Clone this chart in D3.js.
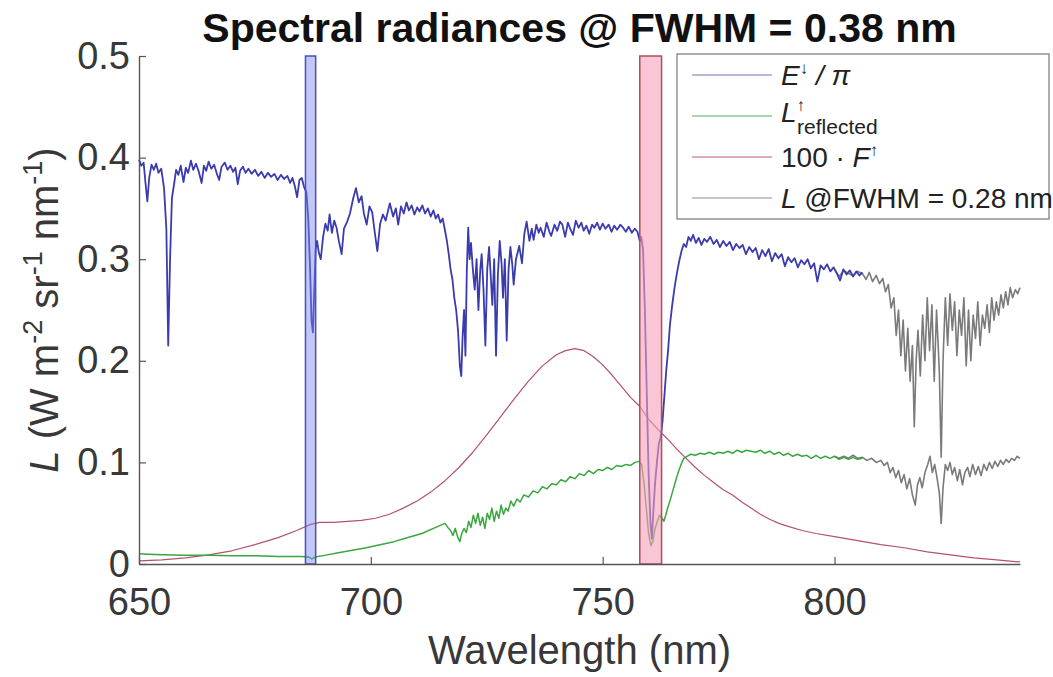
<!DOCTYPE html>
<html>
<head>
<meta charset="utf-8">
<script src="https://cdn.jsdelivr.net/npm/d3@7"></script>
<style>
  body { margin: 0; background: #fff; }
  text { font-family: "Liberation Sans", Arial, sans-serif; }
</style>
</head>
<body>
<div id="chart"></div>
<script>
// E_down / pi (blue)
const eDownNm = [650.0,650.5,651.0,651.4,651.8,652.2,652.7,653.2,653.7,654.2,654.8,655.4,655.9,656.3,656.7,657.1,657.6,658.0,658.5,659.0,659.6,660.1,660.6,661.2,661.7,662.3,662.9,663.5,664.0,664.5,665.0,665.6,666.2,666.8,667.3,667.8,668.5,669.1,669.7,670.3,670.8,671.3,671.8,672.4,673.0,673.6,674.3,675.0,675.7,676.4,677.1,677.8,678.5,679.2,679.9,680.6,681.3,682.0,682.6,683.1,683.6,684.1,684.6,685.1,685.6,686.1,686.5,686.9,687.2,687.5,687.8,688.1,688.4,688.8,689.2,689.7,690.2,690.7,691.1,691.6,692.1,692.6,693.1,693.7,694.2,694.9,695.5,696.2,696.8,697.4,698.0,698.5,699.1,699.7,700.3,700.8,701.4,702.0,702.6,703.2,704.1,704.8,705.4,705.9,706.5,707.1,707.7,708.2,708.8,709.4,710.0,710.5,711.1,711.7,712.3,712.9,713.5,714.0,714.5,715.0,715.5,716.0,716.4,716.8,717.2,717.6,718.0,718.4,718.8,719.2,719.5,719.8,720.1,720.4,720.7,721.0,721.3,721.6,722.0,722.4,722.8,723.2,723.6,723.9,724.3,724.7,725.1,725.5,725.9,726.2,726.6,727.0,727.4,727.8,728.2,728.5,728.9,729.3,729.7,730.1,730.5,730.8,731.3,732.0,732.6,733.1,733.6,734.2,734.7,735.1,735.7,736.2,736.6,737.3,737.9,738.5,738.9,739.6,740.2,740.8,741.3,741.9,742.5,743.0,743.6,744.2,744.8,745.4,745.9,746.5,747.1,747.7,748.2,748.8,749.4,750.0,750.6,751.3,751.9,752.5,753.1,753.8,754.4,755.0,755.6,756.3,756.9,757.5,758.0,758.3,758.7,759.1,759.5,759.9,760.3,760.6,760.9,761.3,761.7,762.1,762.5,762.9,763.3,763.7,764.1,764.5,765.0,765.5,766.0,766.5,767.0,767.5,768.0,768.5,769.0,769.5,770.1,770.7,771.3,771.9,772.5,773.2,773.9,774.6,775.3,776.0,776.7,777.4,778.1,778.8,779.5,780.2,780.9,781.6,782.3,783.0,783.7,784.4,785.1,785.8,786.5,787.2,787.9,788.6,789.3,790.0,790.7,791.4,792.1,792.8,793.5,794.2,794.9,795.6,796.3,797.0,797.7,798.4,799.1,799.8,800.5,801.2,801.9,802.6,803.3,804.0,804.7,805.4,806.0];
const eDownVal = [0.398,0.392,0.395,0.375,0.357,0.380,0.393,0.388,0.394,0.385,0.389,0.370,0.330,0.215,0.300,0.360,0.375,0.388,0.383,0.392,0.376,0.390,0.385,0.397,0.388,0.394,0.386,0.375,0.392,0.387,0.396,0.389,0.393,0.384,0.378,0.391,0.395,0.388,0.392,0.386,0.390,0.374,0.387,0.391,0.385,0.389,0.384,0.388,0.382,0.386,0.380,0.385,0.381,0.384,0.378,0.383,0.379,0.382,0.375,0.380,0.372,0.361,0.378,0.380,0.371,0.366,0.340,0.290,0.240,0.228,0.270,0.310,0.318,0.306,0.300,0.322,0.335,0.328,0.344,0.326,0.338,0.331,0.318,0.305,0.330,0.337,0.345,0.360,0.370,0.356,0.362,0.345,0.334,0.352,0.346,0.328,0.308,0.335,0.344,0.338,0.355,0.342,0.350,0.334,0.352,0.345,0.356,0.348,0.353,0.344,0.351,0.347,0.353,0.345,0.350,0.342,0.348,0.340,0.344,0.336,0.340,0.328,0.318,0.305,0.290,0.280,0.262,0.250,0.230,0.195,0.185,0.225,0.250,0.205,0.290,0.331,0.300,0.316,0.290,0.270,0.300,0.250,0.290,0.305,0.270,0.215,0.290,0.312,0.280,0.255,0.300,0.205,0.285,0.318,0.295,0.262,0.300,0.220,0.290,0.312,0.295,0.275,0.300,0.313,0.296,0.325,0.337,0.318,0.330,0.319,0.334,0.326,0.331,0.322,0.336,0.327,0.323,0.334,0.328,0.337,0.334,0.322,0.336,0.330,0.324,0.338,0.331,0.336,0.328,0.333,0.325,0.334,0.331,0.336,0.329,0.335,0.330,0.334,0.327,0.333,0.329,0.334,0.331,0.327,0.332,0.326,0.330,0.327,0.318,0.322,0.310,0.250,0.170,0.090,0.040,0.025,0.050,0.080,0.100,0.118,0.125,0.140,0.165,0.190,0.210,0.235,0.255,0.272,0.286,0.298,0.308,0.315,0.312,0.322,0.318,0.324,0.316,0.321,0.314,0.320,0.317,0.322,0.315,0.319,0.312,0.318,0.313,0.317,0.309,0.315,0.311,0.314,0.305,0.312,0.307,0.311,0.300,0.309,0.303,0.310,0.298,0.306,0.301,0.305,0.293,0.302,0.297,0.301,0.292,0.299,0.295,0.300,0.291,0.296,0.278,0.294,0.290,0.295,0.288,0.292,0.286,0.279,0.290,0.285,0.289,0.283,0.288,0.284,0.287];

// L_up reflected (green)
const lReflNm = [650,652,655,660,665,670,675,680,685,686.5,687.3,688.0,690,693,696,699,702,705,708,711,714,716,716.6,717.2,717.7,718.2,718.7,719.2,719.6,720.1,720.6,721.1,721.6,722.1,722.6,723.1,723.6,724.1,724.6,725.1,725.6,726.1,726.6,727.1,727.6,728.1,728.6,729.1,729.6,730.2,730.8,731.5,732.2,733,734,735,736,737,738,739,740,741,742,743,744,745,746,747,748,749,750,751,752,753,754,755,756,757,757.8,758.4,758.9,759.4,759.9,760.4,760.8,761.3,761.8,762.3,762.8,763.2,763.6,764.0,764.5,765.0,765.5,766.0,766.5,767.0,767.5,768.2,769,770,771,772,773,774,775,776,777,778,779,780,781,782,783,784,785,786,787,788,789,790,791,792,793,794,795,796,797,798,799,800,801,802,803,804,805,806];
const lReflVal = [0.010,0.0095,0.009,0.0085,0.0085,0.008,0.008,0.0075,0.0075,0.007,0.005,0.0068,0.0085,0.011,0.0135,0.016,0.019,0.022,0.026,0.030,0.036,0.040,0.036,0.033,0.028,0.035,0.027,0.022,0.030,0.035,0.031,0.042,0.036,0.048,0.040,0.050,0.038,0.046,0.035,0.050,0.044,0.055,0.042,0.052,0.045,0.058,0.049,0.055,0.052,0.062,0.057,0.064,0.061,0.068,0.066,0.072,0.070,0.076,0.074,0.079,0.078,0.083,0.081,0.086,0.084,0.089,0.087,0.092,0.089,0.093,0.092,0.095,0.093,0.097,0.096,0.098,0.097,0.100,0.101,0.098,0.080,0.055,0.030,0.018,0.022,0.035,0.042,0.048,0.045,0.042,0.048,0.055,0.062,0.070,0.078,0.086,0.093,0.099,0.104,0.106,0.108,0.107,0.109,0.108,0.110,0.108,0.110,0.109,0.111,0.109,0.112,0.110,0.112,0.111,0.110,0.112,0.109,0.111,0.108,0.110,0.107,0.109,0.106,0.108,0.106,0.107,0.104,0.107,0.104,0.106,0.104,0.106,0.103,0.105,0.103,0.105,0.103,0.104];

// 100 * F_up (red)
const fluorNm = [650,655,660,665,670,675,680,684,687,689,692,695,698,701,704,707,710,713,716,719,722,725,728,731,734,737,740,742,744,746,748,750,752,754,756,758,760,762,764,766,768,770,772,774,776,778,780,782,784,786,788,790,793,796,800,805,810,815,820,825,830,835,840];
const fluorVal = [0.003,0.004,0.006,0.009,0.013,0.019,0.026,0.033,0.039,0.041,0.041,0.042,0.043,0.045,0.049,0.055,0.062,0.071,0.082,0.095,0.110,0.127,0.145,0.163,0.180,0.195,0.206,0.210,0.212,0.210,0.204,0.196,0.186,0.175,0.164,0.155,0.142,0.132,0.123,0.113,0.104,0.095,0.087,0.080,0.073,0.068,0.061,0.055,0.049,0.044,0.040,0.037,0.033,0.030,0.027,0.023,0.019,0.016,0.012,0.009,0.006,0.004,0.002];

// L @ FWHM = 0.28 nm (grey), upper and lower traces
const greyUpNm = [800.0,801.0,802.0,803.0,804.0,805.0,806.0,806.8,807.5,808.2,809.0,809.7,810.4,811.0,811.6,812.2,812.8,813.3,813.8,814.3,814.8,815.3,815.8,816.3,816.8,817.2,817.6,818.0,818.5,819.0,819.5,820.0,820.5,821.0,821.5,822.0,822.6,823.0,823.4,823.9,824.4,824.9,825.4,825.9,826.4,826.9,827.4,827.9,828.4,828.9,829.4,829.9,830.4,830.9,831.4,831.9,832.4,832.9,833.4,833.9,834.4,834.9,835.4,835.9,836.4,836.9,837.4,837.9,838.4,839.0,839.5,840.0];
const greyUpVal = [0.290,0.283,0.289,0.286,0.284,0.288,0.286,0.280,0.287,0.278,0.284,0.276,0.281,0.268,0.275,0.252,0.262,0.225,0.250,0.205,0.240,0.190,0.232,0.180,0.215,0.135,0.200,0.230,0.185,0.245,0.200,0.262,0.210,0.255,0.180,0.250,0.190,0.105,0.200,0.262,0.215,0.266,0.230,0.258,0.205,0.250,0.225,0.262,0.195,0.250,0.200,0.245,0.222,0.258,0.215,0.245,0.232,0.255,0.228,0.262,0.240,0.258,0.245,0.265,0.252,0.268,0.255,0.272,0.262,0.270,0.266,0.272];
const greyLoNm = [800,801,802,803,804,805,806,807,808,809,810,810.7,811.4,812.0,812.6,813.2,813.8,814.4,815.0,815.6,816.2,816.8,817.4,817.9,818.4,818.9,819.5,820.1,820.6,821.1,821.6,822.1,822.6,823.0,823.4,823.9,824.4,824.9,825.4,825.9,826.5,827.0,827.6,828.1,828.7,829.2,829.8,830.4,831.0,831.6,832.2,832.8,833.4,834.0,834.6,835.2,835.8,836.4,837.0,837.6,838.2,838.8,839.4,840.0];
const greyLoVal = [0.106,0.104,0.106,0.104,0.107,0.104,0.105,0.102,0.104,0.100,0.102,0.097,0.100,0.090,0.095,0.085,0.092,0.080,0.088,0.074,0.084,0.068,0.058,0.078,0.085,0.075,0.090,0.098,0.106,0.090,0.098,0.085,0.070,0.040,0.075,0.098,0.092,0.100,0.088,0.095,0.082,0.093,0.078,0.090,0.095,0.086,0.098,0.088,0.096,0.087,0.098,0.092,0.100,0.094,0.101,0.096,0.102,0.098,0.103,0.100,0.104,0.102,0.106,0.104];

// absorption band windows (nm)
const o2bBand = [685.9, 688.1];
const o2aBand = [758.0, 762.7];

const xTicks = [650, 700, 750, 800];
const yTicks = [0, 0.1, 0.2, 0.3, 0.4, 0.5];
const yTickLabels = ["0", "0.1", "0.2", "0.3", "0.4", "0.5"];

const width = 1053, height = 677;
const margin = { top: 56, right: 33, bottom: 113, left: 139 };
const plotW = width - margin.left - margin.right;
const plotH = height - margin.top - margin.bottom;

const svg = d3.select("#chart").append("svg")
  .attr("width", width)
  .attr("height", height)
  .style("background", "#fff");

const g = svg.append("g")
  .attr("transform", `translate(${margin.left},${margin.top})`);

const x = d3.scaleLinear().domain([650, 840]).range([0, plotW]);
const y = d3.scaleLinear().domain([0, 0.5]).range([plotH, 0]);

const zip = (a, b) => a.map((d, i) => [d, b[i]]);
const line = d3.line().x(d => x(d[0])).y(d => y(d[1]));

// series, grey first so blue / green sit on top
const series = [
  { data: zip(greyUpNm, greyUpVal), color: "#7a7a7a", w: 1.6 },
  { data: zip(greyLoNm, greyLoVal), color: "#7a7a7a", w: 1.6 },
  { data: zip(fluorNm, fluorVal), color: "#b5516f", w: 1.2 },
  { data: zip(lReflNm, lReflVal), color: "#3aa63e", w: 1.5 },
  { data: zip(eDownNm, eDownVal), color: "#3b3bb0", w: 1.8 }
];

series.forEach(s => {
  g.append("path")
    .datum(s.data)
    .attr("d", line)
    .attr("fill", "none")
    .attr("stroke", s.color)
    .attr("stroke-width", s.w)
    .attr("stroke-linejoin", "round");
});

// shaded bands
g.append("rect")
  .attr("x", x(o2bBand[0]))
  .attr("width", x(o2bBand[1]) - x(o2bBand[0]))
  .attr("y", y(0.5))
  .attr("height", y(0) - y(0.5))
  .attr("fill", "rgba(120,130,240,0.45)")
  .attr("stroke", "#4450c8")
  .attr("stroke-width", 1.5);

g.append("rect")
  .attr("x", x(o2aBand[0]))
  .attr("width", x(o2aBand[1]) - x(o2aBand[0]))
  .attr("y", y(0.5))
  .attr("height", y(0) - y(0.5))
  .attr("fill", "rgba(246,160,185,0.6)")
  .attr("stroke", "#a8505e")
  .attr("stroke-width", 1.5);

// axes
const xAxis = d3.axisBottom(x).tickValues(xTicks)
  .tickSizeInner(-7).tickSizeOuter(0).tickPadding(24);
const yAxis = d3.axisLeft(y).tickValues(yTicks)
  .tickFormat((d, i) => yTickLabels[i])
  .tickSizeInner(-7).tickSizeOuter(0).tickPadding(9);

const xg = g.append("g").attr("transform", `translate(0,${plotH})`).call(xAxis);
const yg = g.append("g").call(yAxis);

[xg, yg].forEach(ax => {
  ax.select(".domain").attr("stroke", "#555").attr("stroke-width", 1.4);
  ax.selectAll(".tick line").attr("stroke", "#555").attr("stroke-width", 1.2);
  ax.selectAll(".tick text")
    .attr("fill", "#383838")
    .style("font-size", "38px")
    .style("font-family", "'Liberation Sans', Arial, sans-serif");
});

// title
svg.append("text")
  .attr("x", margin.left + plotW / 2)
  .attr("y", 42)
  .attr("text-anchor", "middle")
  .style("font-size", "41px")
  .style("font-weight", "bold")
  .attr("fill", "#111")
  .text("Spectral radiances @ FWHM = 0.38 nm");

// x label
svg.append("text")
  .attr("x", margin.left + plotW / 2)
  .attr("y", 664)
  .attr("text-anchor", "middle")
  .style("font-size", "40px")
  .attr("fill", "#383838")
  .text("Wavelength (nm)");

// y label
const yl = svg.append("text")
  .attr("transform", `translate(58,${margin.top + plotH / 2}) rotate(-90)`)
  .attr("text-anchor", "middle")
  .style("font-size", "40px")
  .attr("fill", "#383838");
yl.append("tspan").style("font-style", "italic").text("L");
yl.append("tspan").text(" (W m");
yl.append("tspan").attr("dy", -16).style("font-size", "27px").text("-2");
yl.append("tspan").attr("dy", 16).text(" sr");
yl.append("tspan").attr("dy", -16).style("font-size", "27px").text("-1");
yl.append("tspan").attr("dy", 16).text(" nm");
yl.append("tspan").attr("dy", -16).style("font-size", "27px").text("-1");
yl.append("tspan").attr("dy", 16).text(")");

// legend
const legend = svg.append("g").attr("class", "legend");
legend.append("rect")
  .attr("x", 677).attr("y", 54)
  .attr("width", 372).attr("height", 165)
  .attr("fill", "#fff")
  .attr("stroke", "#777")
  .attr("stroke-width", 1.2);

const legendRows = [
  { color: "#a0a0cc", ly: 75 },
  { color: "#8fc89b", ly: 116 },
  { color: "#d4909f", ly: 157 },
  { color: "#b4b4b4", ly: 198 }
];
legendRows.forEach(r => {
  legend.append("line")
    .attr("x1", 692).attr("x2", 772)
    .attr("y1", r.ly).attr("y2", r.ly)
    .attr("stroke", r.color)
    .attr("stroke-width", 1.5);
});

const lt = (ly) => legend.append("text")
  .attr("x", 781).attr("y", ly + 10)
  .style("font-size", "28px")
  .attr("fill", "#222");

const t1 = lt(75);
t1.append("tspan").style("font-style", "italic").text("E");
t1.append("tspan").attr("dy", -11).style("font-size", "17px").text("↓");
t1.append("tspan").attr("dy", 11).style("font-style", "italic").text(" / π");

const t2 = lt(112);
t2.append("tspan").style("font-style", "italic").text("L");
t2.append("tspan").attr("dy", -11).style("font-size", "17px").text("↑");
t2.append("tspan").attr("dx", -8).attr("dy", 23).style("font-size", "21px").text("reflected");

const t3 = lt(157);
t3.append("tspan").text("100 · ");
t3.append("tspan").style("font-style", "italic").text("F");
t3.append("tspan").attr("dy", -11).style("font-size", "17px").text("↑");

const t4 = lt(198);
t4.append("tspan").style("font-style", "italic").text("L");
t4.append("tspan").text(" @FWHM = 0.28 nm");
</script>
</body>
</html>
